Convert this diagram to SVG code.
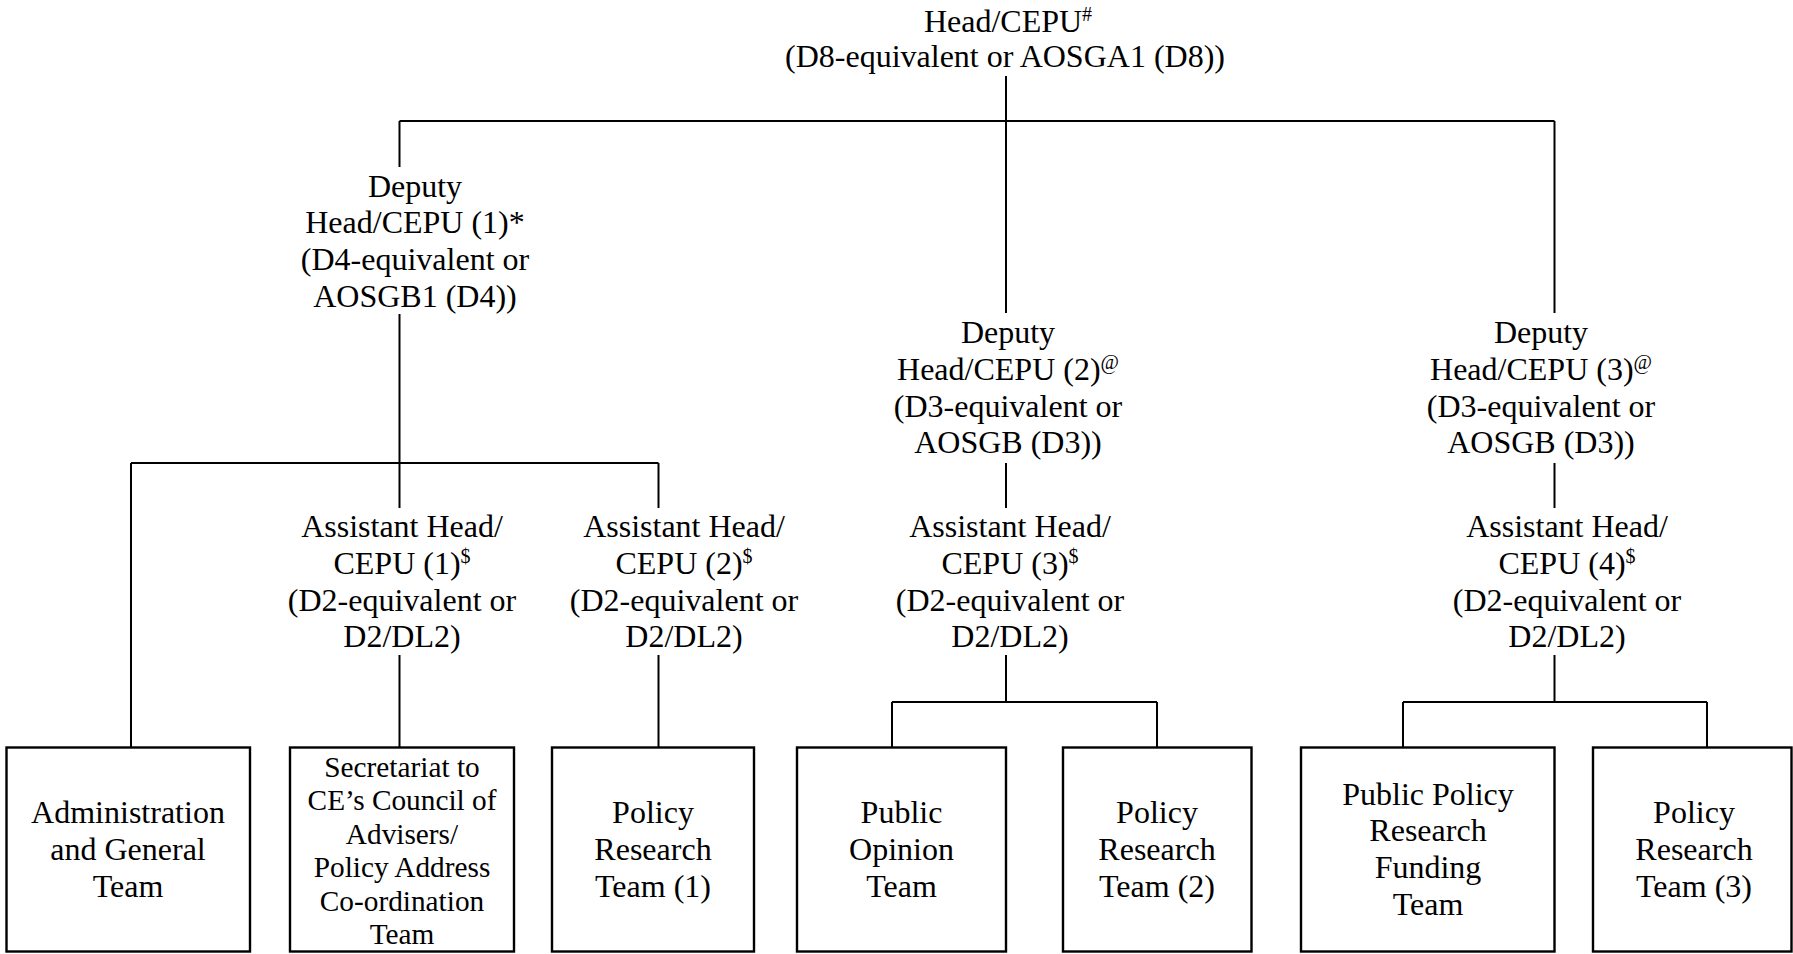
<svg xmlns="http://www.w3.org/2000/svg" width="1793" height="954" viewBox="0 0 1793 954">
<style>
text{font-family:"Liberation Serif","Times New Roman",serif;font-size:32px;fill:#000;text-anchor:middle}
.sm{font-size:29.3px}
.sup{font-size:20px}
.box{fill:#fff;stroke:#000;stroke-width:2.4}
.conn path{fill:none;stroke:#000;stroke-width:2}
</style>
<rect width="1793" height="954" fill="#fff"/>
<g class="conn" id="connectors">
<path d="M399.5 121H1554.5"/>
<path d="M1006 76V313"/>
<path d="M399.5 121V167"/>
<path d="M399.5 314V463"/>
<path d="M131 463H658.5"/>
<path d="M131 463V747.5"/>
<path d="M399.5 463V508M399.5 655V747.5"/>
<path d="M658.5 463V508M658.5 655V747.5"/>
<path d="M1006 463V508M1006 655V702"/>
<path d="M892 702H1157M892 702V747.5M1157 702V747.5"/>
<path d="M1554.5 121V313M1554.5 463V508M1554.5 655V702"/>
<path d="M1403 702H1707M1403 702V747.5M1707 702V747.5"/>
</g>
<g id="head">
<text x="1008" y="31.5">Head/CEPU<tspan class="sup" dy="-11">#</tspan></text>
<text x="1005" y="67">(D8-equivalent or AOSGA1 (D8))</text>
</g>
<g id="deputy1">
<text x="415" y="196.5">Deputy</text>
<text x="415" y="233.3">Head/CEPU (1)*</text>
<text x="415" y="270.1">(D4-equivalent or</text>
<text x="415" y="306.9">AOSGB1 (D4))</text>
</g>
<g id="deputy2">
<text x="1008" y="343">Deputy</text>
<text x="1008" y="379.8">Head/CEPU (2)<tspan class="sup" dy="-11">@</tspan></text>
<text x="1008" y="416.6">(D3-equivalent or</text>
<text x="1008" y="453.4">AOSGB (D3))</text>
</g>
<g id="deputy3">
<text x="1541" y="343">Deputy</text>
<text x="1541" y="379.8">Head/CEPU (3)<tspan class="sup" dy="-11">@</tspan></text>
<text x="1541" y="416.6">(D3-equivalent or</text>
<text x="1541" y="453.4">AOSGB (D3))</text>
</g>
<g id="assistant1">
<text x="402" y="537">Assistant Head/</text>
<text x="402" y="573.8">CEPU (1)<tspan class="sup" dy="-11">$</tspan></text>
<text x="402" y="610.6">(D2-equivalent or</text>
<text x="402" y="647.4">D2/DL2)</text>
</g>
<g id="assistant2">
<text x="684" y="537">Assistant Head/</text>
<text x="684" y="573.8">CEPU (2)<tspan class="sup" dy="-11">$</tspan></text>
<text x="684" y="610.6">(D2-equivalent or</text>
<text x="684" y="647.4">D2/DL2)</text>
</g>
<g id="assistant3">
<text x="1010" y="537">Assistant Head/</text>
<text x="1010" y="573.8">CEPU (3)<tspan class="sup" dy="-11">$</tspan></text>
<text x="1010" y="610.6">(D2-equivalent or</text>
<text x="1010" y="647.4">D2/DL2)</text>
</g>
<g id="assistant4">
<text x="1567" y="537">Assistant Head/</text>
<text x="1567" y="573.8">CEPU (4)<tspan class="sup" dy="-11">$</tspan></text>
<text x="1567" y="610.6">(D2-equivalent or</text>
<text x="1567" y="647.4">D2/DL2)</text>
</g>
<g id="admin-team">
<rect class="box" x="6.5" y="747.5" width="243.5" height="204"/>
<text x="128" y="823">Administration</text>
<text x="128" y="859.8">and General</text>
<text x="128" y="896.6">Team</text>
</g>
<g id="secretariat-team">
<rect class="box" x="290" y="747.5" width="224" height="204"/>
<text class="sm" x="402" y="776.5">Secretariat to</text>
<text class="sm" x="402" y="810">CE’s Council of</text>
<text class="sm" x="402" y="843.5">Advisers/</text>
<text class="sm" x="402" y="877">Policy Address</text>
<text class="sm" x="402" y="910.5">Co-ordination</text>
<text class="sm" x="402" y="944">Team</text>
</g>
<g id="policy-research-1">
<rect class="box" x="552" y="747.5" width="202" height="204"/>
<text x="653" y="823">Policy</text>
<text x="653" y="859.8">Research</text>
<text x="653" y="896.6">Team (1)</text>
</g>
<g id="public-opinion-team">
<rect class="box" x="797" y="747.5" width="209" height="204"/>
<text x="901.5" y="823">Public</text>
<text x="901.5" y="859.8">Opinion</text>
<text x="901.5" y="896.6">Team</text>
</g>
<g id="policy-research-2">
<rect class="box" x="1063" y="747.5" width="188.5" height="204"/>
<text x="1157" y="823">Policy</text>
<text x="1157" y="859.8">Research</text>
<text x="1157" y="896.6">Team (2)</text>
</g>
<g id="funding-team">
<rect class="box" x="1301" y="747.5" width="253.5" height="204"/>
<text x="1428" y="804.5">Public Policy</text>
<text x="1428" y="841.3">Research</text>
<text x="1428" y="878.1">Funding</text>
<text x="1428" y="914.9">Team</text>
</g>
<g id="policy-research-3">
<rect class="box" x="1593" y="747.5" width="198.5" height="204"/>
<text x="1694" y="823">Policy</text>
<text x="1694" y="859.8">Research</text>
<text x="1694" y="896.6">Team (3)</text>
</g>
</svg>
